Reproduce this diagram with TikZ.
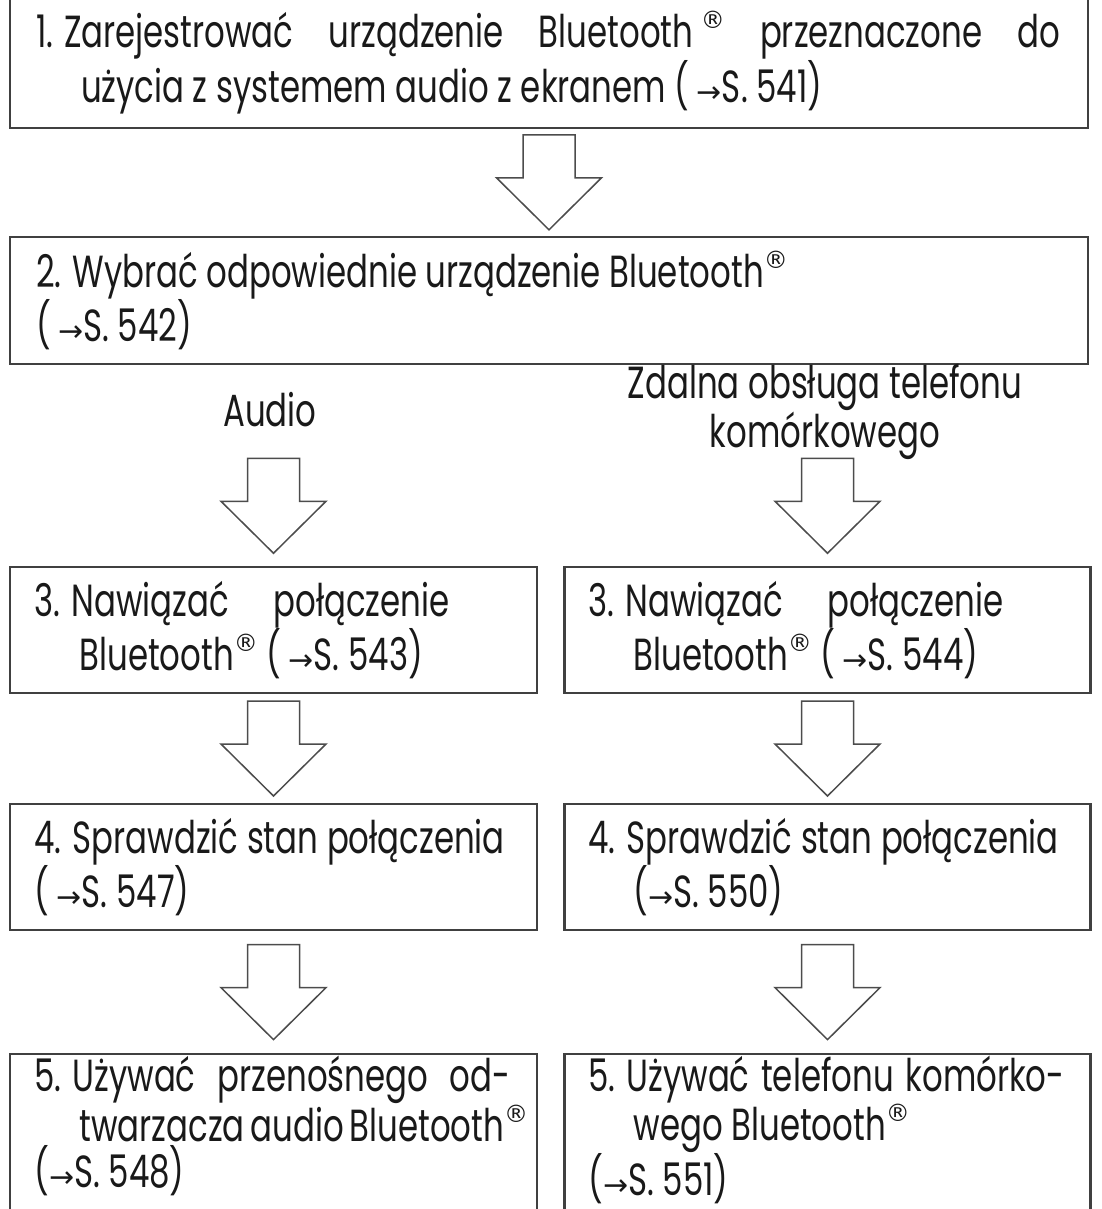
\documentclass[tikz,border=0pt]{standalone}
\usepackage{fontspec}
\setmainfont{Poppins}[FakeStretch=0.72]
\newfontfamily\symfont{DejaVu Sans}
\usepackage{tikz}
\usetikzlibrary{calc,positioning}

\newcommand{\regmark}{\raisebox{0.42em}{\symfont\fontsize{24}{24}\selectfont ®}}
\newcommand{\pgarrow}{{\symfont\fontsize{30}{30}\selectfont →}}
\newcommand{\numgap}{\hspace{11pt}}
\newcommand{\deepstrut}{\rule[-40pt]{0pt}{0pt}}

\begin{document}
\begin{tikzpicture}[x=1pt, y=1pt,
  stepbox/.style={draw=black!75, line width=2.2pt, rectangle, inner xsep=24pt, inner ysep=14pt,
    font=\fontsize{45}{50}\selectfont, align=justify, text=black!90},
  lastbox/.style={stepbox, anchor=north, inner ysep=2pt, font=\fontsize{45}{46}\selectfont},
  branchlabel/.style={font=\fontsize{45}{46}\selectfont, align=center, text=black!90},
  blockarrow/.pic={
    \draw[black!70, line width=1.5pt, fill=white, line join=miter]
      (-26,47.5) -- (26,47.5) -- (26,4.5) -- (52.5,4.5) -- (0,-47.5) -- (-52.5,4.5) -- (-26,4.5) -- cycle;
  }
]
\useasboundingbox (0,0) rectangle (1101,-1209);

\node[stepbox, text width=1026pt, minimum width=1078pt, minimum height=119pt] (box1) at (549,-62.5)
  {\makebox[1024pt][s]{1.\numgap Zarejestrować urządzenie Bluetooth\,\regmark{} przeznaczone do}\\
   \hspace*{45pt}użycia z systemem audio z ekranem (\,\pgarrow S. 541)};
\node[stepbox, text width=1026pt, minimum width=1078pt, minimum height=115pt] (box2) at (549,-300.5)
  {2.\numgap Wybrać odpowiednie urządzenie Bluetooth\regmark\\(\,\pgarrow S. 542)};

\node[branchlabel] (lbla) at (270,-410) {Audio};
\node[branchlabel] (lblp) at (825,-412) {Zdalna obsługa telefonu\\komórkowego};

\node[stepbox, text width=478pt, minimum width=527pt, minimum height=120pt] (b3a) at (273.5,-630)
  {\makebox[415pt][s]{3.\numgap Nawiązać połączenie}\\
   \hspace*{45pt}Bluetooth\regmark{} (\,\pgarrow S. 543)};
\node[stepbox, text width=478pt, minimum width=521pt, minimum height=120pt] (b3p) at (827.5,-630)
  {\makebox[415pt][s]{3.\numgap Nawiązać połączenie}\\
   \hspace*{45pt}Bluetooth\regmark{} (\,\pgarrow S. 544)};

\node[stepbox, text width=478pt, minimum width=527pt, minimum height=125pt] (b4a) at (273.5,-867)
  {4.\numgap Sprawdzić stan połączenia\\(\,\pgarrow S. 547)};
\node[stepbox, text width=478pt, minimum width=521pt, minimum height=125pt] (b4p) at (827.5,-867)
  {4.\numgap Sprawdzić stan połączenia\\\hspace*{45pt}(\pgarrow S. 550)};

\node[lastbox, text width=478pt, minimum width=527pt] (b5a) at (273.5,-1053)
  {\makebox[476pt][s]{5.\numgap Używać przenośnego od-}\\
   \hspace*{45pt}twarzacza audio Bluetooth\regmark\\(\pgarrow S. 548)\deepstrut};
\node[lastbox, text width=478pt, minimum width=521pt] (b5p) at (827.5,-1053)
  {\makebox[476pt][s]{5.\numgap Używać telefonu komórko-}\\
   \hspace*{45pt}wego Bluetooth\regmark\\(\pgarrow S. 551)\deepstrut};

% block arrows between the steps
\pic at ($(box1.south)!0.5!(box2.north)$) {blockarrow};
\pic at ($(b3a.north)+(0,60)$) {blockarrow};
\pic at ($(b3p.north)+(0,60)$) {blockarrow};
\pic at ($(b3a.south)!0.5!(b4a.north)$) {blockarrow};
\pic at ($(b3p.south)!0.5!(b4p.north)$) {blockarrow};
\pic at ($(b4a.south)!0.5!(b5a.north)$) {blockarrow};
\pic at ($(b4p.south)!0.5!(b5p.north)$) {blockarrow};
\end{tikzpicture}
\end{document}
